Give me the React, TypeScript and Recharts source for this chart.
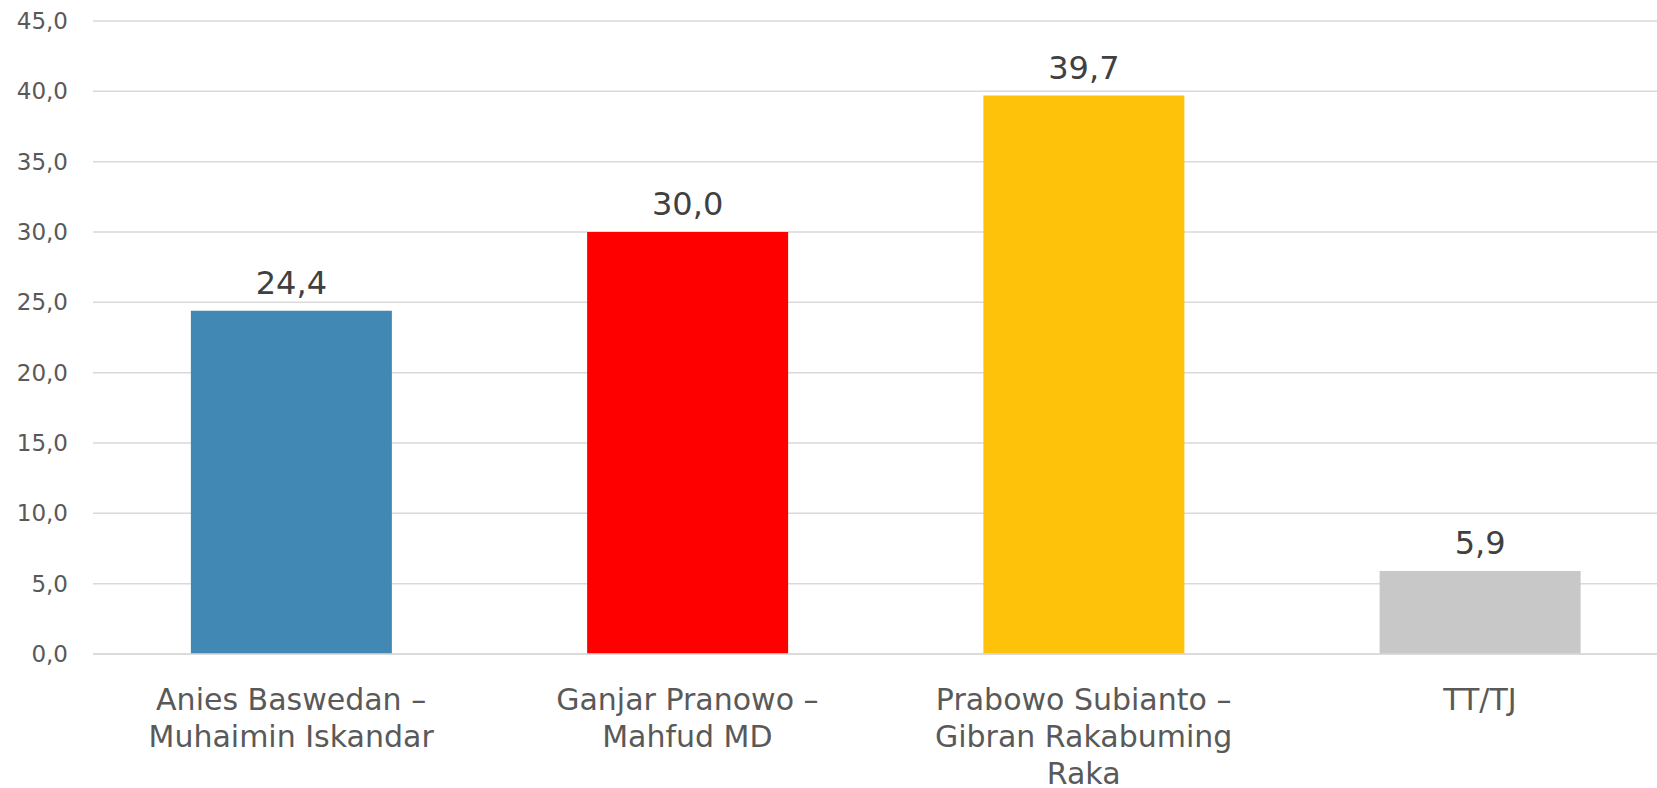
import { BarChart, Bar, XAxis, YAxis, CartesianGrid, LabelList, Cell } from "recharts";

const categories = [
  "Anies Baswedan –\nMuhaimin Iskandar",
  "Ganjar Pranowo –\nMahfud MD",
  "Prabowo Subianto –\nGibran Rakabuming\nRaka",
  "TT/TJ",
];
const values = [24.4, 30.0, 39.7, 5.9];
const colors = ["#4189B4", "#FF0000", "#FFC20A", "#C8C8C8"];
const yTicks = [0, 5, 10, 15, 20, 25, 30, 35, 40, 45];

const data = categories.map((name, i) => ({ name, value: values[i] }));

const FONT = "'DejaVu Sans', sans-serif";
const fmt = (v: number) => v.toFixed(1).replace(".", ",");

function CategoryTick(props: any) {
  const { x, y, payload } = props;
  const lines = String(payload.value).split("\n");
  return (
    <text x={x} y={y} textAnchor="middle" fill="#595959" fontSize={30} fontFamily={FONT}>
      {lines.map((line, i) => (
        <tspan key={i} x={x} y={y + 48 + i * 37}>
          {line}
        </tspan>
      ))}
    </text>
  );
}

export default function App() {
  return (
    <div style={{ position: "fixed", left: 0, top: 0, width: 1657, height: 788, overflow: "hidden", background: "#fff" }}>
      <BarChart
        width={1678}
        height={788}
        data={data}
        margin={{ top: 21, right: 0, bottom: 0, left: 0 }}
        barCategoryGap="24.7%"
      >
        <CartesianGrid vertical={false} stroke="#D9D9D9" strokeWidth={1.5} />
        <XAxis
          dataKey="name"
          height={134}
          tick={<CategoryTick />}
          tickLine={false}
          axisLine={{ stroke: "#D9D9D9", strokeWidth: 1.5 }}
          interval={0}
        />
        <YAxis
          width={93}
          domain={[0, 45]}
          ticks={yTicks}
          tickFormatter={fmt}
          tickLine={false}
          axisLine={false}
          tickSize={0}
          tickMargin={25}
          tick={{ fill: "#595959", fontSize: 23, fontFamily: FONT }}
        />
        <Bar dataKey="value" isAnimationActive={false}>
          {data.map((d, i) => (
            <Cell key={d.name} fill={colors[i]} />
          ))}
          <LabelList
            dataKey="value"
            position="top"
            offset={17}
            formatter={(v: any) => fmt(Number(v))}
            fill="#404040"
            fontSize={32}
            fontFamily={FONT}
          />
        </Bar>
      </BarChart>
    </div>
  );
}
